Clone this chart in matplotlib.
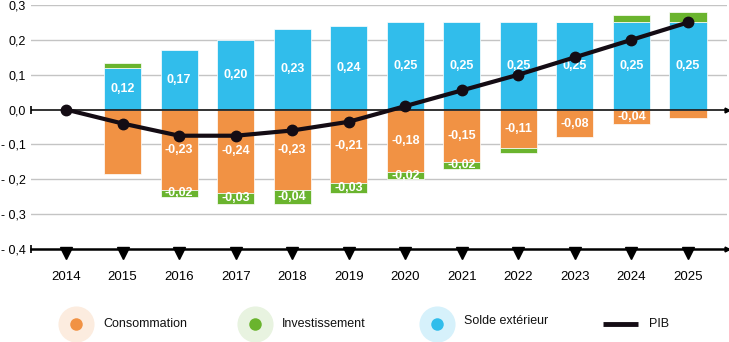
import numpy as np
import matplotlib
matplotlib.use("Agg")
import matplotlib.pyplot as plt

plt.rcParams['font.family'] = ['Liberation Sans', 'DejaVu Sans']

# Contributions à la croissance du PIB (points)
years = np.arange(2014, 2026)
consommation = np.array([0, -0.185, -0.23, -0.24, -0.23, -0.21, -0.18, -0.15, -0.11, -0.08, -0.04, -0.025])
investissement = np.array([0, 0.015, -0.02, -0.03, -0.04, -0.03, -0.02, -0.02, -0.015, 0, 0.02, 0.03])
solde_ext = np.array([0, 0.12, 0.17, 0.20, 0.23, 0.24, 0.25, 0.25, 0.25, 0.25, 0.25, 0.25])
pib = np.array([0, -0.04, -0.075, -0.075, -0.06, -0.035, 0.01, 0.055, 0.10, 0.15, 0.20, 0.25])

# which bar segments carry a value label
show_conso = (years >= 2016) & (years <= 2024)
show_invest = (years >= 2016) & (years <= 2021)
show_solde = years >= 2015

yticks = [0.3, 0.2, 0.1, 0.0, -0.1, -0.2, -0.3, -0.4]
ytick_labels = ['0,3', '0,2', '0,1', '0,0', '- 0,1', '- 0,2', '- 0,3', '- 0,4']

ORANGE = '#F19244'
GREEN = '#6AB42E'
BLUE = '#31BDEB'
DARK = '#140c14'


def fmt(v):
    return f"{v:.2f}".replace('.', ',')


W, H = 729, 342
fig = plt.figure(figsize=(W / 100, H / 100), dpi=100)
ax = fig.add_axes([31 / W, 1 - 249 / H, (727 - 31) / W, (249 - 5) / H])

width = 0.655
ax.bar(years, consommation, width, color=ORANGE, edgecolor='white', linewidth=0.5, zorder=2)
ax.bar(years, solde_ext, width, color=BLUE, edgecolor='white', linewidth=0.5, zorder=2)
inv_bottom = np.where(investissement < 0, consommation, solde_ext)
ax.bar(years, investissement, width, bottom=inv_bottom, color=GREEN,
       edgecolor='white', linewidth=0.5, zorder=2)

lbl = dict(color='white', fontsize=9, fontweight='bold', ha='center', va='center', zorder=3)
for i, yr in enumerate(years):
    if show_solde[i]:
        ax.text(yr, solde_ext[i] / 2, fmt(solde_ext[i]), **lbl)
    if show_conso[i]:
        ax.text(yr, consommation[i] / 2, fmt(consommation[i]), **lbl)
    if show_invest[i]:
        ax.text(yr, inv_bottom[i] + investissement[i] / 2, fmt(investissement[i]), **lbl)

ax.plot(years, pib, color=DARK, lw=3, marker='o', ms=7.5, zorder=5)

# grid, zero line and base axis
for y in yticks[:-1]:
    if y != 0:
        ax.axhline(y, color='#c4c4c4', lw=1, zorder=1)
ax.set_xlim(2013.38, 2025.69)
ax.set_ylim(-0.4, 0.3)
ax.axhline(0, color='#222222', lw=1.3, zorder=4)
ax.axhline(-0.4, color='black', lw=1.8, zorder=4, clip_on=False)
for y in (0, -0.4):
    ax.plot([2013.38], [y], marker='|', color='black', ms=6, mew=1.2, clip_on=False, zorder=4)
    ax.plot([2025.69], [y], marker='>', color='black', ms=3.5, clip_on=False, zorder=4)
ax.plot(years, np.full(len(years), -0.4125), 'v', color='black', ms=8, clip_on=False, zorder=4)

for s in ax.spines.values():
    s.set_visible(False)
ax.set_yticks(yticks)
ax.set_yticklabels(ytick_labels)
ax.set_xticks(years)
ax.set_xticklabels([str(y) for y in years])
ax.tick_params(axis='y', length=0, pad=4, labelsize=9)
ax.tick_params(axis='x', length=0, pad=16, labelsize=9.5)

# legend drawn in pixel space below the chart
lg = fig.add_axes([0, 0, 1, 1 - 249 / H], facecolor='none')
lg.set_xlim(0, W)
lg.set_ylim(H, 249)
lg.axis('off')
entries = [(76, ORANGE, '#FCECDF', 'Consommation', 324),
           (255, GREEN, '#E8F3E0', 'Investissement', 324),
           (437, BLUE, '#D6F1FB', 'Solde extérieur', 321)]
for x, c, halo, name, ty in entries:
    lg.plot(x, 324, 'o', ms=26, color=halo, mew=0)
    lg.plot(x, 324, 'o', ms=9, color=c, mew=0)
    lg.text(x + 27, ty, name, fontsize=9, va='center', ha='left', color='#111111')
lg.plot([603, 638], [324, 324], color=DARK, lw=3.5, solid_capstyle='butt')
lg.text(649, 324, 'PIB', fontsize=9, va='center', ha='left', color='#111111')

fig.savefig('out.png', dpi=100)
